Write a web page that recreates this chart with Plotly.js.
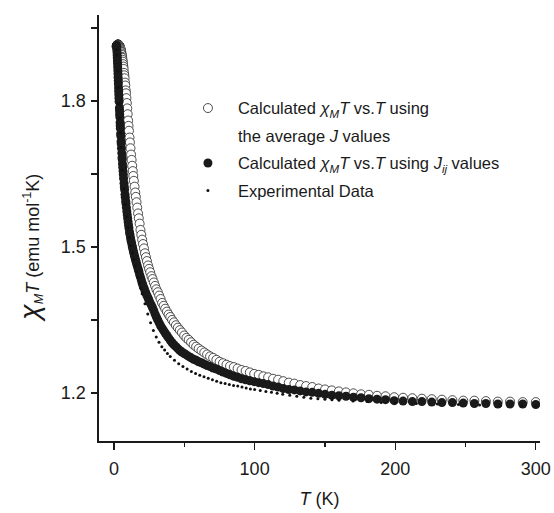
<!DOCTYPE html>
<html>
<head>
<meta charset="utf-8">
<script src="https://cdn.plot.ly/plotly-3.0.1.min.js"></script>
<style>html,body{margin:0;padding:0;background:#fff;}#chart{width:554px;height:513px;}</style>
</head>
<body>
<div id="chart"></div>
<script>
// Temperature grid of the calculated curves (K)
var tCalc = [1.8,1.9,2.0,2.1,2.2,2.3,2.4,2.5,2.6,2.7,2.8,2.9,3.0,3.1,3.2,3.3,3.4,3.5,3.6,3.8,3.9,4.0,4.1,4.3,4.4,4.5,4.7,4.8,5.0,5.1,5.3,5.5,5.7,5.8,6.0,6.2,6.4,6.6,6.8,7.1,7.3,7.5,7.8,8.0,8.3,8.5,8.8,9.1,9.4,9.7,10.0,10.3,10.6,11.0,11.3,11.7,12.1,12.5,12.9,13.3,13.7,14.1,14.6,15.1,15.5,16.0,16.5,17.1,17.6,18.2,18.8,19.4,20.0,20.6,21.3,22.0,22.7,23.4,24.2,24.9,25.7,26.6,27.4,28.3,29.2,30.1,31.1,32.1,33.1,34.2,35.3,36.4,37.6,38.8,40.0,41.3,42.6,44.0,45.4,46.8,48.3,49.9,51.5,53.1,54.8,56.6,58.4,60.2,62.2,64.2,66.2,68.3,70.5,72.8,75.1,77.5,80.0,82.5,85.2,87.9,90.7,93.6,96.6,99.7,102.9,106.2,109.6,113.1,116.7,120.4,124.3,128.3,132.4,136.6,141.0,145.5,150.1,154.9,159.9,165.0,170.3,175.7,181.3,187.1,193.1,199.3,205.6,212.2,219.0,226.0,233.2,240.7,248.4,256.3,264.5,273.0,281.7,290.7,300.0];

// Calculated chiM*T using the average J values (open circles)
var chiAvgJ = [1.912,1.913,1.914,1.914,1.915,1.915,1.916,1.916,1.916,1.916,1.916,1.916,1.916,1.916,1.916,1.915,1.915,1.915,1.914,1.913,1.913,1.912,1.911,1.910,1.909,1.908,1.906,1.904,1.902,1.901,1.898,1.895,1.891,1.889,1.885,1.881,1.876,1.871,1.866,1.858,1.853,1.847,1.838,1.832,1.822,1.816,1.806,1.796,1.785,1.773,1.760,1.749,1.739,1.725,1.715,1.703,1.690,1.679,1.667,1.656,1.646,1.636,1.624,1.612,1.603,1.592,1.581,1.569,1.559,1.548,1.535,1.525,1.515,1.506,1.497,1.487,1.479,1.471,1.462,1.455,1.448,1.440,1.434,1.427,1.420,1.413,1.407,1.400,1.393,1.385,1.379,1.373,1.367,1.361,1.356,1.350,1.345,1.339,1.334,1.329,1.324,1.318,1.313,1.309,1.304,1.299,1.295,1.291,1.287,1.283,1.279,1.275,1.272,1.268,1.264,1.261,1.258,1.255,1.253,1.250,1.247,1.245,1.242,1.239,1.237,1.234,1.232,1.229,1.227,1.224,1.221,1.219,1.216,1.214,1.212,1.209,1.207,1.205,1.203,1.201,1.199,1.197,1.196,1.194,1.193,1.191,1.190,1.189,1.188,1.187,1.186,1.185,1.184,1.184,1.183,1.182,1.182,1.181,1.181];

// Calculated chiM*T using the Jij values (filled circles)
var chiJij = [1.915,1.911,1.906,1.901,1.895,1.889,1.883,1.877,1.870,1.863,1.856,1.849,1.842,1.835,1.827,1.820,1.813,1.806,1.799,1.786,1.780,1.773,1.767,1.756,1.750,1.744,1.733,1.728,1.717,1.712,1.703,1.693,1.684,1.680,1.671,1.664,1.656,1.649,1.641,1.631,1.624,1.618,1.608,1.602,1.594,1.589,1.581,1.573,1.566,1.559,1.552,1.545,1.539,1.531,1.526,1.519,1.513,1.508,1.502,1.497,1.492,1.487,1.481,1.476,1.471,1.466,1.461,1.455,1.450,1.443,1.438,1.432,1.426,1.421,1.416,1.410,1.405,1.400,1.395,1.390,1.385,1.380,1.375,1.369,1.362,1.356,1.350,1.344,1.338,1.333,1.328,1.323,1.318,1.313,1.308,1.303,1.299,1.295,1.291,1.287,1.284,1.281,1.278,1.275,1.272,1.269,1.267,1.264,1.262,1.259,1.256,1.254,1.251,1.249,1.246,1.243,1.240,1.237,1.234,1.232,1.229,1.227,1.225,1.223,1.221,1.219,1.217,1.214,1.212,1.209,1.207,1.206,1.204,1.202,1.201,1.199,1.197,1.195,1.194,1.193,1.191,1.190,1.188,1.187,1.186,1.184,1.183,1.182,1.182,1.181,1.180,1.180,1.179,1.178,1.178,1.177,1.177,1.177,1.176];

// Experimental data (small dots)
var tExp = [1.8,2,2.5,3,3.5,4,4.5,5,6,7,8,9,10,11,12,13,14,15,16,17,18,19,20,22,24,26,28,30,32,34,36,38,40,43,46,49,52,55,58,61,64,67,70,73,76,79,82,85,88,91,94,97,100,104,108,112,116,120,125,130,135,140,145,150,155,160,170,180,190,200,215,230,245,260,275,290,300];
var chiExp = [1.905,1.895,1.862,1.828,1.795,1.765,1.735,1.705,1.658,1.620,1.588,1.562,1.540,1.520,1.503,1.488,1.474,1.461,1.449,1.437,1.426,1.415,1.404,1.383,1.362,1.344,1.328,1.315,1.304,1.295,1.288,1.281,1.275,1.267,1.260,1.254,1.249,1.244,1.240,1.236,1.233,1.230,1.227,1.224,1.221,1.219,1.217,1.215,1.214,1.212,1.210,1.208,1.207,1.205,1.203,1.201,1.199,1.197,1.195,1.193,1.191,1.189,1.188,1.187,1.186,1.185,1.183,1.182,1.180,1.179,1.178,1.177,1.176,1.175,1.174,1.173,1.173];

var legendNames = [
  'Calculated <i>\u03c7<sub>M</sub></i><i>T</i> vs.<i>T</i> using',
  'the average <i>J</i> values',
  'Calculated <i>\u03c7<sub>M</sub></i><i>T</i> vs.<i>T</i> using <i>J<sub>ij</sub></i> values',
  'Experimental Data'
];

var FONT = '"Liberation Sans", Arial, Helvetica, sans-serif';

var traces = [
  {x: tCalc, y: chiAvgJ, type: 'scatter', mode: 'markers', name: legendNames[0], legendgroup: 'a',
   marker: {symbol: 'circle', size: 9, color: '#ffffff', line: {color: '#222222', width: 0.8}}},
  {x: [null], y: [null], type: 'scatter', mode: 'markers', name: legendNames[1], legendgroup: 'b',
   marker: {size: 1, color: 'rgba(0,0,0,0)', line: {width: 0}}},
  {x: tCalc, y: chiJij, type: 'scatter', mode: 'markers', name: legendNames[2], legendgroup: 'c',
   marker: {symbol: 'circle', size: 9, color: '#1a1a1a', line: {width: 0}}},
  {x: tExp, y: chiExp, type: 'scatter', mode: 'markers', name: legendNames[3], legendgroup: 'd',
   marker: {symbol: 'circle', size: 3, color: '#111111', line: {width: 0}}}
];

var layout = {
  width: 554, height: 513,
  margin: {l: 99, r: 14, t: 15, b: 72, pad: 0},
  paper_bgcolor: '#ffffff', plot_bgcolor: '#ffffff',
  font: {family: FONT, size: 17, color: '#1a1a1a'},
  showlegend: true,
  legend: {x: 0.179, y: 0.822, xanchor: 'left', yanchor: 'top', bgcolor: 'rgba(0,0,0,0)',
           font: {family: FONT, size: 16.5, color: '#1a1a1a'}, itemwidth: 50, tracegroupgap: 3,
           traceorder: 'grouped', valign: 'middle'},
  xaxis: {
    range: [-10.7, 303], showgrid: false, zeroline: false,
    showline: true, linecolor: '#1a1a1a', linewidth: 1.6,
    ticks: 'outside', ticklen: 7, tickwidth: 1.4, tickcolor: '#1a1a1a',
    tick0: 0, dtick: 100, tickfont: {family: FONT, size: 18}, ticklabelstandoff: 4,
    minor: {dtick: 50, tick0: 0, ticks: 'outside', ticklen: 4, tickwidth: 1.4, tickcolor: '#1a1a1a', showgrid: false},
    title: {text: '<i>T</i> (K)', font: {family: FONT, size: 18}, standoff: 14}
  },
  yaxis: {
    range: [1.101, 1.977], showgrid: false, zeroline: false,
    showline: true, linecolor: '#1a1a1a', linewidth: 1.6,
    ticks: 'outside', ticklen: 6, tickwidth: 1.4, tickcolor: '#1a1a1a',
    tick0: 1.2, dtick: 0.3, tickformat: '.1f', tickfont: {family: FONT, size: 18}, ticklabelstandoff: 2,
    minor: {dtick: 0.15, tick0: 1.2, ticks: 'outside', ticklen: 6, tickwidth: 1.4, tickcolor: '#1a1a1a', showgrid: false}
  },
  annotations: [{
    text: '<i><span style="font-size:28px">\u03c7</span><sub>M</sub>T</i> (emu mol<sup>-1</sup>K)',
    xref: 'paper', yref: 'paper', x: -0.156, y: 0.452, xanchor: 'center', yanchor: 'middle',
    textangle: -90, showarrow: false, font: {family: FONT, size: 18, color: '#1a1a1a'}
  }]
};

Plotly.newPlot('chart', traces, layout, {displayModeBar: false, staticPlot: true});
</script>
</body>
</html>
